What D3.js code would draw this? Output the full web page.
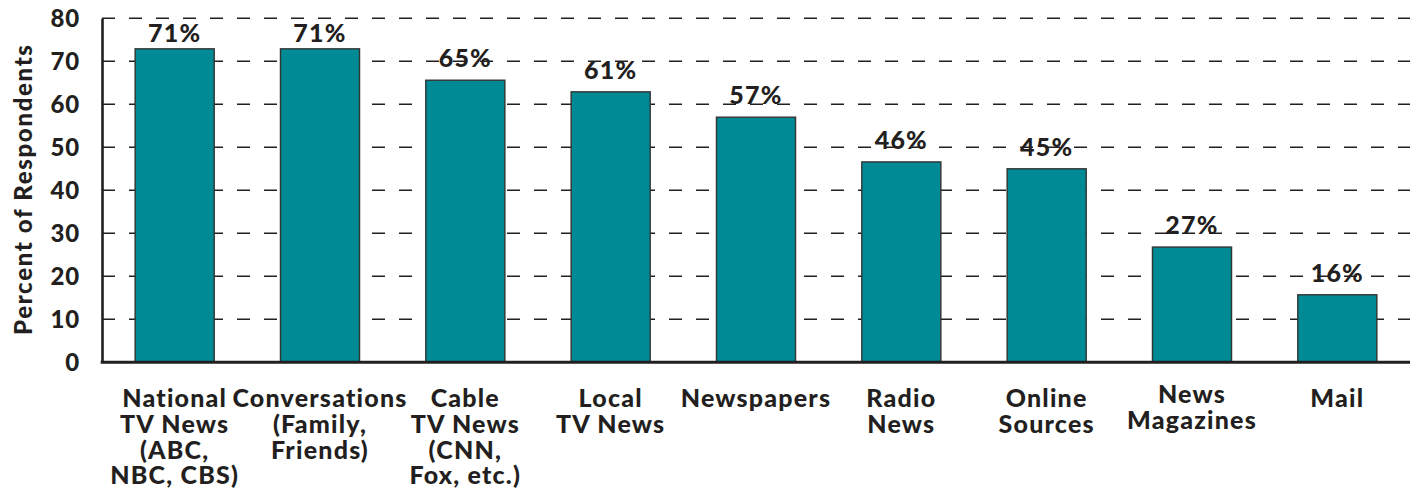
<!DOCTYPE html>
<html>
<head>
<meta charset="utf-8">
<script src="https://cdn.jsdelivr.net/npm/d3@7"></script>
<style>
  html, body { margin: 0; padding: 0; background: #fff; }
  svg { display: block; }
  text { font-family: "Lato", "Open Sans", sans-serif; font-weight: 900; fill: #231f20; }
</style>
</head>
<body>
<svg id="chart" width="1415" height="494"></svg>
<script>
const categories = [
  ["National", "TV News", "(ABC,", "NBC, CBS)"],
  ["Conversations", "(Family,", "Friends)"],
  ["Cable", "TV News", "(CNN,", "Fox, etc.)"],
  ["Local", "TV News"],
  ["Newspapers"],
  ["Radio", "News"],
  ["Online", "Sources"],
  ["News", "Magazines"],
  ["Mail"]
];
const barValues = [72.9, 72.9, 65.6, 62.9, 57.0, 46.6, 45.0, 26.8, 15.7];
const valueLabels = ["71%", "71%", "65%", "61%", "57%", "46%", "45%", "27%", "16%"];
const yTicks = [0, 10, 20, 30, 40, 50, 60, 70, 80];
const yTitle = "Percent of Respondents";

const svg = d3.select("#chart");
const mLeft = 102, mRight = 1410, mTop = 18.3, mBottom = 362.3;
const fs = 25, ls = "1.2px";

const x = d3.scaleBand().domain(d3.range(categories.length)).range([mLeft, mRight]).paddingInner(0.456).paddingOuter(0.228);
const y = d3.scaleLinear().domain([0, 80]).range([mBottom, mTop]);

// gridlines
svg.append("g").selectAll("line").data(yTicks.filter(d => d > 0)).join("line")
  .attr("x1", mLeft).attr("x2", mRight)
  .attr("y1", d => y(d)).attr("y2", d => y(d))
  .attr("stroke", "#231f20").attr("stroke-width", 1.4)
  .attr("stroke-dasharray", "13,14");

// bars
svg.append("g").selectAll("rect").data(barValues).join("rect")
  .attr("x", (d, i) => x(i)).attr("width", x.bandwidth())
  .attr("y", d => y(d)).attr("height", d => y(0) - y(d))
  .attr("fill", "#008a96").attr("stroke", "#333").attr("stroke-width", 1.4);

// value labels
svg.append("g").selectAll("text").data(valueLabels).join("text")
  .attr("x", (d, i) => x(i) + x.bandwidth() / 2)
  .attr("y", (d, i) => Math.max(y(barValues[i]) - 13, y(80) + 24))
  .attr("text-anchor", "middle").attr("font-size", fs).style("letter-spacing", ls)
  .text(d => d);

// y axis
const yAxis = d3.axisLeft(y).tickValues(yTicks).tickSize(0).tickPadding(22).tickFormat(d3.format("d"));
const gy = svg.append("g").attr("transform", `translate(${mLeft},0)`).call(yAxis);
gy.select(".domain").attr("stroke", "#231f20").attr("stroke-width", 2.6);
gy.selectAll("text").attr("font-size", 24).attr("font-family", "Lato").attr("font-weight", 900)
  .attr("fill", "#231f20").attr("dy", "0.35em").style("letter-spacing", "0.8px");

// baseline
svg.append("line").attr("x1", mLeft - 1.3).attr("x2", mRight).attr("y1", y(0)).attr("y2", y(0))
  .attr("stroke", "#231f20").attr("stroke-width", 3);

// category labels
const lh = 25.8;
const cat = svg.append("g").selectAll("text").data(categories).join("text")
  .attr("text-anchor", "middle").attr("font-size", fs).style("letter-spacing", ls)
  .attr("x", (d, i) => x(i) + x.bandwidth() / 2)
  .attr("y", (d, i) => i === 7 ? 403 : 407);
cat.selectAll("tspan").data(d => d).join("tspan")
  .attr("x", function() { return d3.select(this.parentNode).attr("x"); })
  .attr("dy", (d, j) => j === 0 ? 0 : lh)
  .text(d => d);

// y title
svg.append("text").attr("transform", `translate(32,190) rotate(-90)`)
  .attr("text-anchor", "middle").attr("font-size", 24)
  .attr("textLength", 290).attr("lengthAdjust", "spacing")
  .text(yTitle);
</script>
</body>
</html>
